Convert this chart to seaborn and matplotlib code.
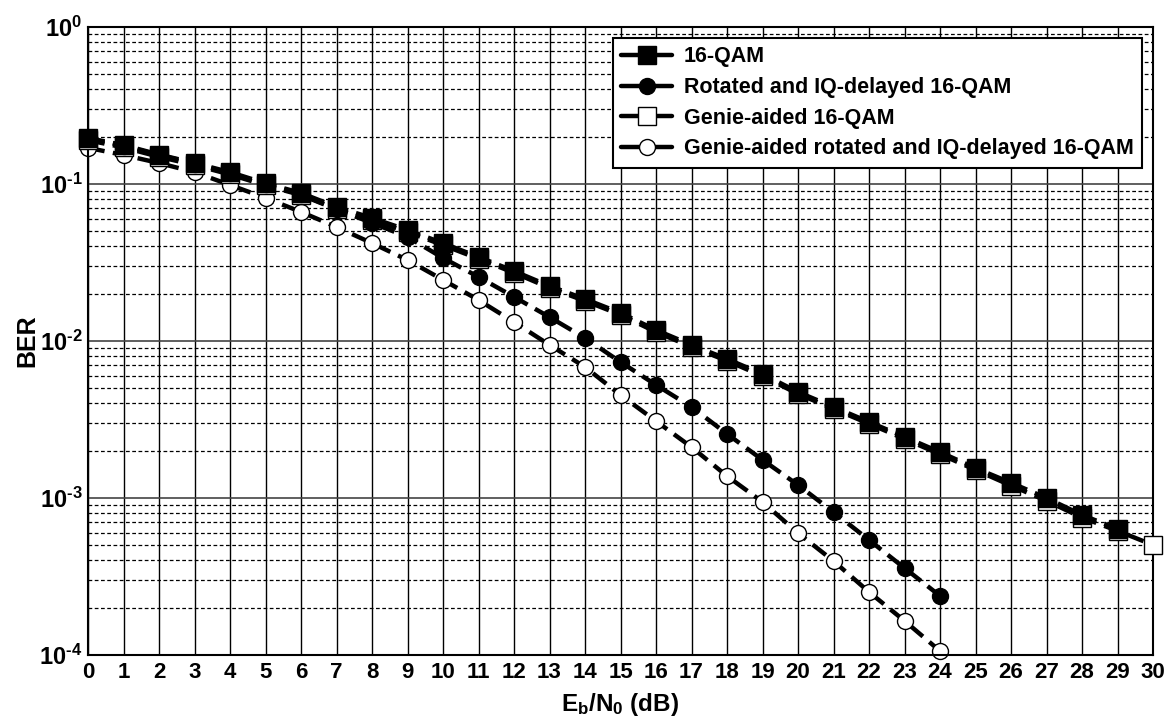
import numpy as np
import pandas as pd
import matplotlib
matplotlib.use("Agg")
import matplotlib.pyplot as plt
from matplotlib.lines import Line2D
from matplotlib.ticker import FixedLocator, FuncFormatter, LogLocator, NullFormatter
import seaborn as sns

# ---------------- data ----------------
snr_db = list(range(0, 31))

ber_16qam = [0.196, 0.177, 0.154, 0.136, 0.119, 0.101, 0.0877, 0.0714, 0.0607, 0.0509,
             0.0420, 0.0343, 0.0279, 0.0224, 0.0185, 0.0151, 0.01175, 0.00944, 0.00768,
             0.00616, 0.00473, 0.00380, 0.00305, 0.00245, 0.00196, 0.00155, 0.00125,
             0.00100, 0.00078, 0.000635]

ber_rot = [0.195, 0.175, 0.153, 0.135, 0.117, 0.100, 0.0860, 0.0690, 0.0565, 0.0460,
           0.0338, 0.0256, 0.0191, 0.0142, 0.01045, 0.00735, 0.00525, 0.00380, 0.00256,
           0.00175, 0.00121, 0.000814, 0.00054, 0.000358, 0.000238]

ber_genie_16qam = [0.190, 0.171, 0.149, 0.132, 0.115, 0.098, 0.085, 0.069, 0.0590, 0.0495,
                   0.0408, 0.0334, 0.0272, 0.0218, 0.0180, 0.0147, 0.01140, 0.00918, 0.00748,
                   0.00598, 0.00460, 0.00370, 0.00297, 0.00238, 0.00190, 0.00151, 0.00120,
                   0.00096, 0.00075, 0.000618, 0.000502]

ber_genie_rot = [0.170, 0.153, 0.136, 0.119, 0.0986, 0.0815, 0.0664, 0.0532, 0.0420, 0.0328,
                 0.0245, 0.01824, 0.0132, 0.00944, 0.00683, 0.00453, 0.00309, 0.00211,
                 0.00138, 0.000944, 0.000598, 0.000397, 0.000252, 0.000165, 0.000106]

labels = ["16-QAM", "Rotated and IQ-delayed 16-QAM", "Genie-aided 16-QAM",
          "Genie-aided rotated and IQ-delayed 16-QAM"]

x_ticks = list(range(0, 31))
y_ticks = [1e-4, 1e-3, 1e-2, 1e-1, 1e0]

# ---------------- style ----------------
sns.set_theme(style="white")
plt.rcParams["font.family"] = ["Liberation Sans", "DejaVu Sans"]
plt.rcParams["font.weight"] = "bold"
plt.rcParams["text.color"] = "black"
plt.rcParams["axes.labelcolor"] = "black"
plt.rcParams["xtick.color"] = "black"
plt.rcParams["ytick.color"] = "black"
plt.rcParams["mathtext.fontset"] = "custom"
plt.rcParams["mathtext.rm"] = "Liberation Sans:bold"
plt.rcParams["mathtext.bf"] = "Liberation Sans:bold"
plt.rcParams["mathtext.it"] = "Liberation Sans:bold"
plt.rcParams["mathtext.default"] = "rm"

fig = plt.figure(figsize=(11.73, 7.24), dpi=100)
ax = fig.add_axes([88 / 1173, 1 - 655 / 724, (1153 - 88) / 1173, (655 - 27) / 724])

series = [
    (ber_16qam, labels[0], "s", "black", 5, 12.5),
    (ber_rot, labels[1], "o", "black", 4, 11.5),
    (ber_genie_16qam, labels[2], "s", "white", 3, 12.5),
    (ber_genie_rot, labels[3], "o", "white", 2, 11.5),
]

dash = (0, (3.8, 1.9))
for vals, lab, mk, fc, z, ms in series:
    df = pd.DataFrame({"snr": snr_db[:len(vals)], "ber": vals})
    sns.lineplot(data=df, x="snr", y="ber", ax=ax, color="black", linewidth=3.2,
                 linestyle=dash, marker=mk, markersize=ms, markerfacecolor=fc,
                 markeredgecolor="black", markeredgewidth=1.0, errorbar=None,
                 zorder=z, legend=False, clip_on=False)

ax.set_yscale("log")
ax.set_xlim(0, 30)
ax.set_ylim(1e-4, 1)


def fmt_pow(v, p):
    e = int(round(np.log10(v)))
    if e < 0:
        return r"$10^{\text{-}%d}$" % (-e)
    return r"$10^{%d}$" % e


ax.xaxis.set_major_locator(FixedLocator(x_ticks))
ax.xaxis.set_minor_locator(FixedLocator([t + 0.5 for t in x_ticks[:-1]]))
ax.yaxis.set_major_locator(FixedLocator(y_ticks))
ax.yaxis.set_minor_locator(LogLocator(base=10, subs=np.arange(2, 10), numticks=20))
ax.yaxis.set_minor_formatter(NullFormatter())
ax.yaxis.set_major_formatter(FuncFormatter(fmt_pow))

ax.grid(True, which="major", axis="x", color="black", linewidth=1.0, linestyle="-")
ax.grid(True, which="major", axis="y", color="#444444", linewidth=1.2, linestyle="-")
ax.grid(True, which="minor", axis="y", color="black", linewidth=0.9, linestyle=(0, (3, 2)))
ax.set_axisbelow(True)

ax.tick_params(axis="both", which="major", direction="in", length=5, width=1.0,
               labelsize=16, colors="black", pad=5)
ax.tick_params(axis="y", which="major", labelsize=17, pad=4)
ax.tick_params(axis="both", which="minor", direction="in", length=3, width=1.0)
ax.tick_params(axis="x", which="both", top=False)
ax.tick_params(axis="y", which="both", right=False)
for lbl in ax.get_xticklabels() + ax.get_yticklabels():
    lbl.set_fontweight("bold")

for sp in ax.spines.values():
    sp.set_color("black")
    sp.set_linewidth(1.5)

ax.set_xlabel(r"$E_b/N_0$ (dB)", fontsize=17.5, fontweight="bold", labelpad=6)
ax.set_ylabel("BER", fontsize=18, fontweight="bold", labelpad=0)

handles = []
for vals, lab, mk, fc, z, ms in series:
    handles.append(Line2D([], [], color="black", linewidth=3.2, linestyle="-", marker=mk,
                          markersize=ms, markerfacecolor=fc, markeredgecolor="black",
                          markeredgewidth=1.0))
leg = ax.legend(handles, labels, loc="upper right", frameon=True,
                fancybox=False, edgecolor="black", framealpha=1.0, handlelength=2.35,
                borderaxespad=0.5, labelspacing=0.45, handletextpad=0.55, borderpad=0.4,
                prop={"weight": "bold", "size": 15.5})
leg.get_frame().set_linewidth(1.5)
for t in leg.get_texts():
    t.set_color("black")

fig.savefig("out.png", dpi=100)
